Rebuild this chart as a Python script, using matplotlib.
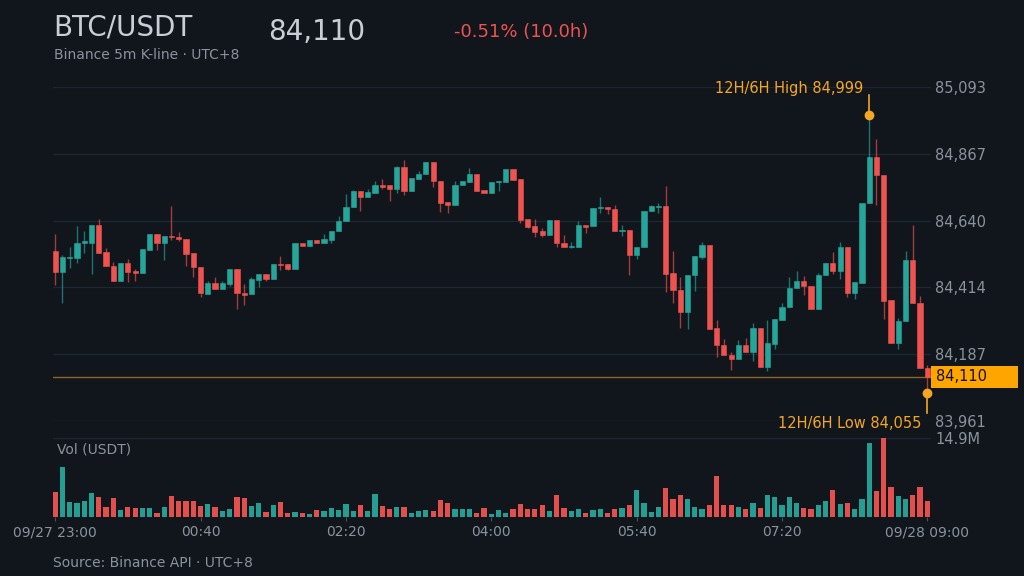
import numpy as np
import matplotlib
matplotlib.use("Agg")
import matplotlib.pyplot as plt
import matplotlib.transforms as mtransforms
from matplotlib.patches import Rectangle

# BTC/USDT 5m candles, 09/27 23:00 -> 09/28 09:00 (UTC+8)
opens = [84538, 84465, 84512, 84515, 84563, 84566, 84624, 84534, 84486, 84436,
         84496, 84469, 84463, 84542, 84595, 84564, 84588, 84585, 84579, 84529,
         84483, 84393, 84427, 84407, 84426, 84475, 84394, 84390, 84439, 84458,
         84443, 84493, 84493, 84475, 84565, 84553, 84575, 84566, 84575, 84606,
         84640, 84685, 84742, 84722, 84735, 84762, 84760, 84746, 84821, 84740,
         84782, 84798, 84839, 84776, 84703, 84694, 84760, 84771, 84798, 84744,
         84735, 84771, 84771, 84814, 84781, 84645, 84622, 84606, 84591, 84642,
         84566, 84550, 84552, 84625, 84622, 84683, 84688, 84681, 84604, 84608,
         84522, 84550, 84672, 84688, 84690, 84462, 84405, 84329, 84455, 84518,
         84557, 84276, 84220, 84186, 84170, 84218, 84193, 84276, 84145, 84222,
         84303, 84347, 84410, 84437, 84417, 84340, 84455, 84497, 84471, 84552,
         84394, 84430, 84699, 84855, 84794, 84371, 84226, 84301, 84505, 84360,
         84141]
highs = [84594, 84524, 84552, 84622, 84606, 84626, 84645, 84546, 84501, 84496,
         84509, 84477, 84543, 84595, 84595, 84588, 84690, 84602, 84579, 84529,
         84483, 84437, 84450, 84437, 84475, 84475, 84424, 84448, 84458, 84458,
         84493, 84520, 84493, 84565, 84565, 84574, 84575, 84594, 84606, 84656,
         84730, 84745, 84742, 84747, 84773, 84782, 84760, 84825, 84846, 84785,
         84809, 84839, 84839, 84776, 84705, 84773, 84773, 84819, 84798, 84744,
         84771, 84776, 84814, 84814, 84781, 84645, 84645, 84615, 84642, 84642,
         84591, 84568, 84640, 84625, 84683, 84721, 84688, 84692, 84625, 84608,
         84550, 84674, 84692, 84701, 84758, 84538, 84448, 84455, 84520, 84568,
         84557, 84303, 84240, 84193, 84236, 84242, 84292, 84276, 84303, 84306,
         84360, 84448, 84471, 84451, 84417, 84464, 84497, 84534, 84568, 84552,
         84432, 84701, 84999, 84918, 84794, 84371, 84310, 84536, 84627, 84385,
         84150]
lows = [84422, 84362, 84479, 84498, 84529, 84458, 84531, 84486, 84435, 84436,
        84431, 84437, 84463, 84542, 84542, 84506, 84575, 84570, 84487, 84449,
        84380, 84393, 84407, 84407, 84419, 84342, 84355, 84390, 84416, 84437,
        84443, 84473, 84472, 84475, 84553, 84553, 84566, 84566, 84566, 84606,
        84640, 84685, 84673, 84722, 84735, 84746, 84707, 84735, 84728, 84740,
        84782, 84798, 84753, 84669, 84665, 84694, 84760, 84771, 84742, 84735,
        84735, 84742, 84771, 84778, 84631, 84615, 84584, 84584, 84591, 84552,
        84550, 84547, 84552, 84599, 84622, 84667, 84663, 84606, 84588, 84457,
        84509, 84550, 84672, 84667, 84399, 84360, 84276, 84272, 84401, 84511,
        84274, 84177, 84184, 84134, 84170, 84193, 84163, 84145, 84129, 84206,
        84303, 84347, 84410, 84389, 84340, 84340, 84455, 84458, 84442, 84380,
        84376, 84430, 84699, 84692, 84306, 84226, 84206, 84301, 84360, 84141,
        84055]
closes = [84465, 84516, 84516, 84565, 84570, 84624, 84531, 84486, 84436, 84496,
          84466, 84463, 84543, 84595, 84564, 84588, 84584, 84578, 84528, 84483,
          84394, 84427, 84407, 84427, 84475, 84394, 84389, 84441, 84458, 84443,
          84493, 84489, 84475, 84565, 84553, 84574, 84566, 84577, 84606, 84640,
          84685, 84742, 84722, 84737, 84760, 84755, 84746, 84821, 84742, 84785,
          84798, 84839, 84773, 84701, 84694, 84762, 84773, 84798, 84742, 84735,
          84771, 84776, 84814, 84778, 84642, 84620, 84602, 84591, 84642, 84564,
          84550, 84554, 84625, 84620, 84683, 84688, 84679, 84606, 84608, 84522,
          84550, 84674, 84690, 84690, 84459, 84404, 84329, 84455, 84520, 84557,
          84274, 84218, 84184, 84170, 84218, 84193, 84276, 84145, 84224, 84306,
          84347, 84410, 84437, 84417, 84340, 84455, 84497, 84471, 84552, 84394,
          84432, 84701, 84855, 84794, 84369, 84226, 84301, 84505, 84360, 84141,
          84110]
# volume in million USDT
volumes = [4.75, 9.43, 2.85, 2.72, 2.98, 4.62, 3.86, 1.84, 3.61, 1.33,
           1.96, 1.71, 1.71, 1.71, 0.82, 1.84, 3.99, 2.98, 3.10, 3.10,
           2.09, 2.47, 1.84, 1.20, 1.58, 3.86, 3.61, 2.09, 2.60, 0.95,
           2.22, 2.85, 0.70, 0.95, 0.70, 0.57, 1.33, 1.08, 1.71, 1.33,
           2.47, 1.08, 2.34, 1.20, 4.37, 2.09, 1.58, 1.84, 1.96, 0.70,
           1.08, 1.33, 1.20, 3.23, 2.60, 1.58, 1.46, 1.46, 0.70, 1.71,
           0.57, 1.33, 0.82, 1.58, 2.47, 1.46, 1.46, 2.22, 1.20, 4.24,
           1.71, 1.20, 1.58, 0.82, 1.33, 1.58, 0.82, 1.58, 1.71, 2.34,
           5.13, 2.72, 0.95, 1.96, 5.51, 3.48, 4.11, 3.35, 1.96, 1.58,
           2.22, 7.66, 2.34, 2.22, 1.96, 1.46, 2.60, 1.71, 4.11, 3.86,
           2.22, 3.73, 2.60, 1.71, 1.46, 2.34, 3.10, 5.13, 2.47, 2.72,
           1.46, 3.35, 14.0, 4.87, 14.9, 5.63, 3.99, 3.35, 4.24, 5.63,
           3.10]
tick_pos = [0, 20, 40, 60, 80, 100, 120]
tick_labels = ["09/27 23:00", "00:40", "02:20", "04:00", "05:40", "07:20", "09/28 09:00"]

BG = "#11161d"
GRID = "#1f2630"
UP = "#26a69a"
DOWN = "#ef5350"
ORANGE = "#f5a623"
MUTED = "#8b929b"

o = np.array(opens, float)
h = np.array(highs, float)
l = np.array(lows, float)
c = np.array(closes, float)
v = np.array(volumes) * 1e6
x = np.arange(len(o))
colors = np.where(c >= o, UP, DOWN)

fig = plt.figure(figsize=(10.24, 5.76), dpi=100, facecolor=BG)
ax = fig.add_axes([53 / 1024, 1 - 421 / 576, 878 / 1024, 334 / 576], facecolor=BG)
axv = fig.add_axes([53 / 1024, 1 - 517 / 576, 878 / 1024, 79 / 576], facecolor=BG, sharex=ax)

# candles
ax.vlines(x, l, h, colors=colors, linewidth=1, alpha=0.65, zorder=2)
body = np.maximum(np.abs(c - o), 3)
ax.bar(x, body, bottom=np.minimum(o, c), width=0.72, color=colors,
       edgecolor=colors, linewidth=0.4, zorder=3)

lo, hi = l.min(), h.max()
pad = (hi - lo) * 0.1
ymin, ymax = lo - pad, hi + pad
ax.set_ylim(ymin, ymax)
ax.set_xlim(-0.3, len(x) - 0.5)
yt = np.linspace(ymin, ymax, 6)
ax.set_yticks(yt)
ax.set_yticklabels([f"{t:,.0f}" for t in yt])
ax.yaxis.tick_right()
ax.tick_params(axis="y", length=0, pad=3, colors=MUTED, labelsize=10.5)
ax.tick_params(axis="x", length=0, labelbottom=False)
ax.grid(axis="y", color=GRID, linewidth=0.9)
for s in ax.spines.values():
    s.set_visible(False)

# last price line and box
last = c[-1]
ax.axhline(last, color=ORANGE, linewidth=1, alpha=0.55, zorder=1)
trans = mtransforms.blended_transform_factory(ax.transAxes, ax.transData)
px = (ymax - ymin) / 334
ax.add_patch(Rectangle((1.0, last - 11 * px), 87 / 878, 22 * px, transform=trans,
                       facecolor="#ffa500", edgecolor="none", clip_on=False, zorder=5))
ax.text(1.0 + 5 / 878, last, f"{last:,.0f}", transform=trans, ha="left", va="center",
        fontsize=10.5, color="#111111", zorder=6, clip_on=False)

# high / low markers
ih, il = int(np.argmax(h)), int(np.argmin(l))
ax.plot([ih, ih], [hi, hi + 20 * px], color=ORANGE, linewidth=1.2, zorder=4)
ax.plot(ih, hi, "o", color=ORANGE, markersize=6, zorder=5)
ax.annotate(f"12H/6H High {hi:,.0f}", xy=(ih, hi), xytext=(-6, 26), textcoords="offset pixels",
            ha="right", va="center", color=ORANGE, fontsize=10.5, annotation_clip=False)
ax.plot([il, il], [lo, lo - 20 * px], color=ORANGE, linewidth=1.2, zorder=4, clip_on=False)
ax.plot(il, lo, "o", color=ORANGE, markersize=6, zorder=5, clip_on=False)
ax.annotate(f"12H/6H Low {lo:,.0f}", xy=(il, lo), xytext=(-6, -30), textcoords="offset pixels",
            ha="right", va="center", color=ORANGE, fontsize=10.5, annotation_clip=False)

# volume
axv.bar(x, v, width=0.72, color=colors, alpha=0.95, zorder=3)
vmax = v.max()
axv.set_ylim(0, vmax)
axv.set_yticks([vmax])
axv.set_yticklabels([f"{vmax / 1e6:.1f}M"])
axv.yaxis.tick_right()
axv.tick_params(axis="y", length=0, pad=3, colors=MUTED, labelsize=10.5)
axv.grid(axis="y", color=GRID, linewidth=0.9)
axv.set_xticks(tick_pos)
axv.set_xticklabels(tick_labels)
axv.tick_params(axis="x", length=3, color="#4a515b", labelcolor=MUTED, labelsize=10, pad=3)
for s in axv.spines.values():
    s.set_visible(False)
axv.text(0.005, 0.85, "Vol (USDT)", transform=axv.transAxes, ha="left", va="center",
         color=MUTED, fontsize=10)

# header
chg = (c[-1] - o[0]) / o[0] * 100
fig.text(53 / 1024, 1 - 27 / 576, "BTC/USDT", color="#c9ced6", fontsize=20, va="center")
fig.text(268 / 1024, 1 - 32 / 576, f"{last:,.0f}", color="#c9ced6", fontsize=20, va="center")
fig.text(454 / 1024, 1 - 32 / 576, f"{chg:+.2f}% (10.0h)", color=DOWN, fontsize=13, va="center")
fig.text(54 / 1024, 1 - 55 / 576, "Binance 5m K-line · UTC+8", color=MUTED, fontsize=10, va="center")
fig.text(53 / 1024, 1 - 563 / 576, "Source: Binance API · UTC+8", color=MUTED, fontsize=10, va="center")

fig.savefig("out.png", dpi=100, facecolor=BG)
